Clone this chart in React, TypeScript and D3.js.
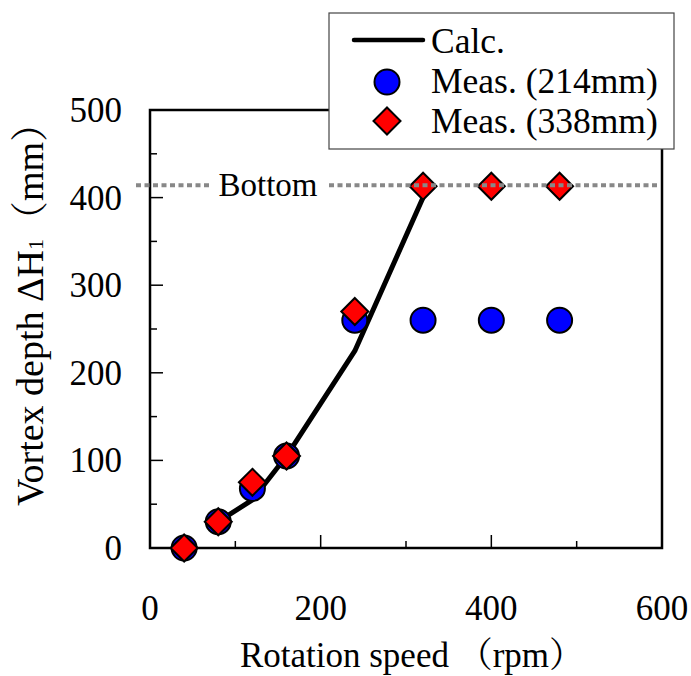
import React from "react";
import * as d3 from "d3";

const calcRpm = [80, 120, 160, 240, 320];
const calcDepth = [30, 55, 105, 225, 400];
const measRpm = [40, 80, 120, 160, 240, 320, 400, 480];
const meas214 = [0, 30, 68, 105, 260, 260, 260, 260];
const meas338 = [0, 30, 75, 105, 270, 413, 413, 413];
const bottomLevel = 414;
const xTicks = [0, 200, 400, 600];
const yTicks = [0, 100, 200, 300, 400, 500];
const xMinor = [100, 300, 500];
const yMinor = [50, 150, 250, 350, 450];

const W = 691;
const H = 676;
const FONT = "'Liberation Serif', 'Times New Roman', 'Noto Serif CJK JP', 'Noto Sans CJK JP', serif";

export default function App() {
  const x = d3.scaleLinear().domain([0, 600]).range([150, 662]);
  const y = d3.scaleLinear().domain([0, 500]).range([548, 110]);
  const line = d3
    .line<number>()
    .x((_, i) => x(calcRpm[i]))
    .y((d) => y(d));
  const by = y(bottomLevel);
  const diamond = (cx: number, cy: number, r: number) =>
    `M${cx},${cy - r}L${cx + r},${cy}L${cx},${cy + r}L${cx - r},${cy}Z`;

  return (
    <svg
      width={W}
      height={H}
      style={{ position: "absolute", left: 0, top: 0, background: "#fff" }}
      fontFamily={FONT}
    >
      <rect x={0} y={0} width={W} height={H} fill="#fff" />
      {/* frame */}
      <rect x={x(0)} y={y(500)} width={x(600) - x(0)} height={y(0) - y(500)} fill="none" stroke="#000" strokeWidth={2.5} />
      {/* ticks */}
      {yTicks.map((t) => (
        <line key={"yt" + t} x1={x(0)} x2={x(0) + 13} y1={y(t)} y2={y(t)} stroke="#000" strokeWidth={1.5} />
      ))}
      {yMinor.map((t) => (
        <line key={"ym" + t} x1={x(0)} x2={x(0) + 7} y1={y(t)} y2={y(t)} stroke="#000" strokeWidth={1.5} />
      ))}
      {xTicks.map((t) => (
        <line key={"xt" + t} x1={x(t)} x2={x(t)} y1={y(0)} y2={y(0) - 13} stroke="#000" strokeWidth={1.5} />
      ))}
      {xMinor.map((t) => (
        <line key={"xm" + t} x1={x(t)} x2={x(t)} y1={y(0)} y2={y(0) - 7} stroke="#000" strokeWidth={1.5} />
      ))}
      {/* tick labels */}
      {yTicks.map((t) => (
        <text key={"yl" + t} x={122} y={y(t) + 12} fontSize={35} textAnchor="end">
          {t}
        </text>
      ))}
      {xTicks.map((t) => (
        <text key={"xl" + t} x={x(t)} y={620} fontSize={35} textAnchor="middle">
          {t}
        </text>
      ))}
      {/* calc line */}
      <path d={line(calcDepth) || ""} fill="none" stroke="#000" strokeWidth={5} strokeLinejoin="round" />
      {/* markers */}
      {measRpm.map((r, i) => (
        <circle key={"c" + i} cx={x(r)} cy={y(meas214[i])} r={12.5} fill="#0000ff" stroke="#000" strokeWidth={2} />
      ))}
      {measRpm.map((r, i) => (
        <path key={"d" + i} d={diamond(x(r), y(meas338[i]), 13.5)} fill="#ff0000" stroke="#000" strokeWidth={2} />
      ))}
      {/* bottom line */}
      <line x1={136} x2={212} y1={by} y2={by} stroke="#888" strokeWidth={4} strokeDasharray="5 3.5" />
      <line x1={329} x2={660} y1={by} y2={by} stroke="#888" strokeWidth={4} strokeDasharray="5 3.5" />
      <text x={268} y={by + 11} fontSize={33} textAnchor="middle">
        Bottom
      </text>
      {/* axis titles */}
      <text x={412} y={667} fontSize={35} textAnchor="middle">
        Rotation speed （rpm）
      </text>
      <text transform={`translate(43,305) rotate(-90)`} fontSize={38} textAnchor="middle">
        Vortex depth ΔH<tspan fontSize={22}>1</tspan>（mm）
      </text>
      {/* legend */}
      <rect x={329} y={13} width={345} height={136} fill="#fff" stroke="#444" strokeWidth={1.2} />
      <line x1={354} x2={423} y1={40} y2={40} stroke="#000" strokeWidth={4.5} strokeLinecap="round" />
      <text x={431} y={53} fontSize={35.5}>Calc.</text>
      <circle cx={387} cy={82} r={12.5} fill="#0000ff" stroke="#000" strokeWidth={2} />
      <text x={431} y={93} fontSize={35.5}>Meas. (214mm)</text>
      <path d={diamond(387, 121, 13.5)} fill="#ff0000" stroke="#000" strokeWidth={2} />
      <text x={431} y={133} fontSize={35.5}>Meas. (338mm)</text>
    </svg>
  );
}
